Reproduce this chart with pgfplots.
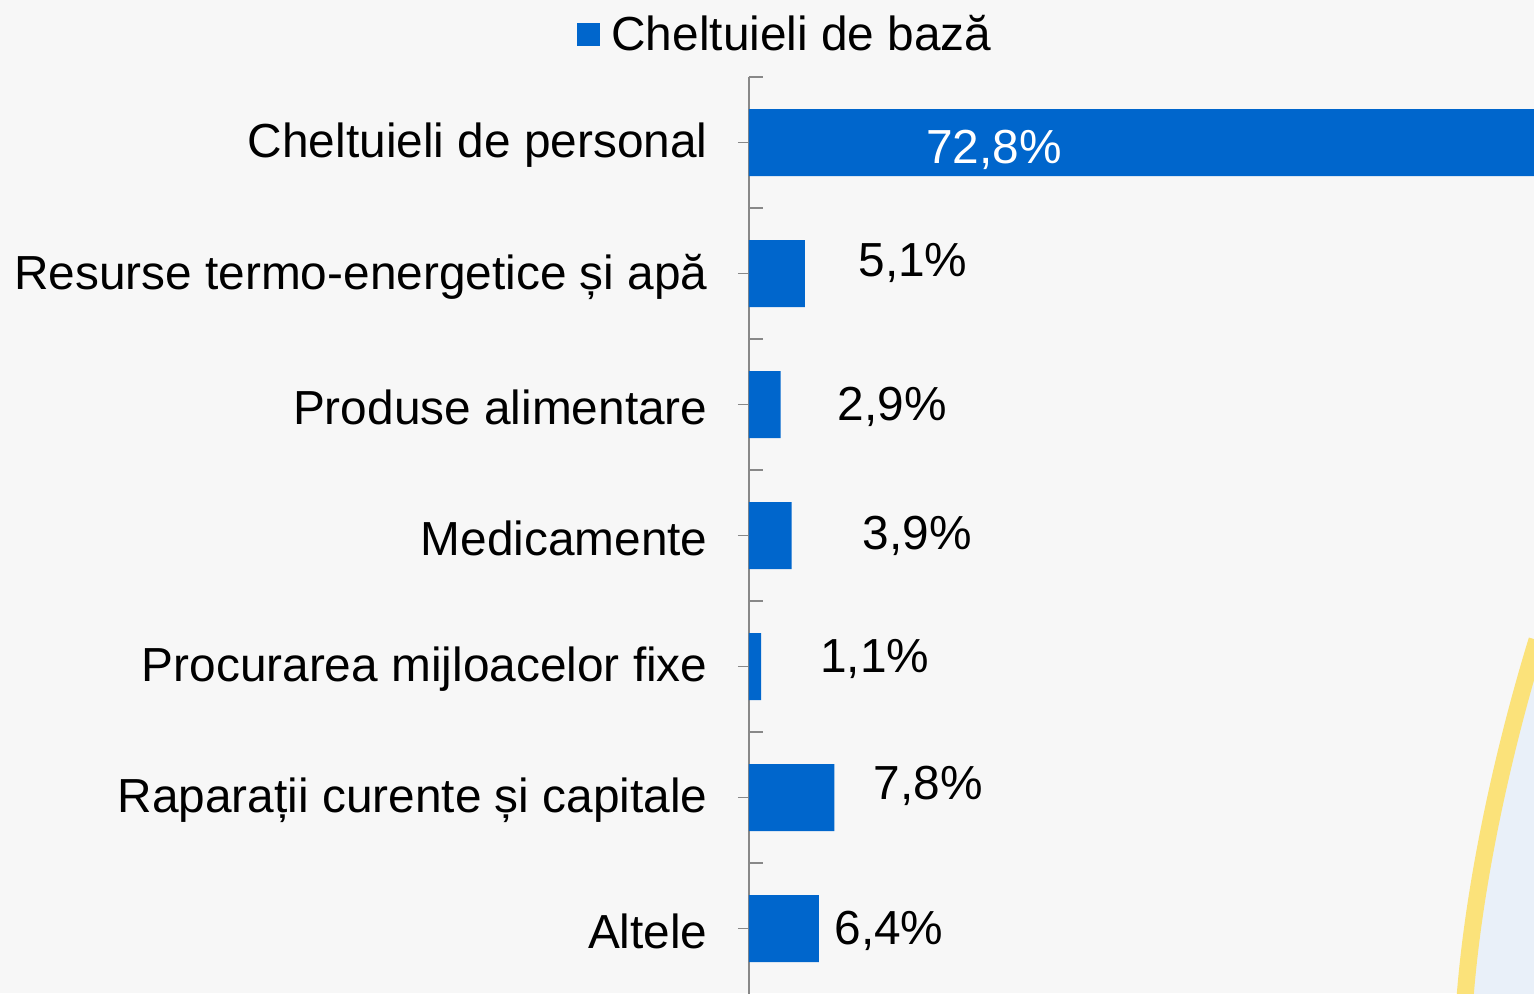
\documentclass[border=0pt]{standalone}
\usepackage{pgfplots}
\pgfplotsset{compat=1.18}
\usepackage{fontspec}
\setmainfont{Liberation Sans}
\definecolor{barblue}{HTML}{0066CC}
\definecolor{bgc}{HTML}{F7F7F7}
\definecolor{axgray}{HTML}{888888}
\definecolor{deco}{HTML}{FBE27A}
\definecolor{decoblue}{HTML}{E9F0F9}
\begin{document}
\begin{tikzpicture}[x=1pt,y=1pt,font=\fontsize{23.9}{28}\selectfont]
\path[use as bounding box] (-374.5,0.5) rectangle (392.5,497);
\clip (-374.5,0.5) rectangle (392.5,497);
\fill[bgc] (-374.5,0.5) rectangle (392.5,497);
% decorative swoosh (background)
\fill[decoblue] (394,177) .. controls (375,115) and (362,50) .. (358,-2) -- (400,-2) -- cycle;
\draw[deco, line width=8.5pt] (394,177) .. controls (375,115) and (362,50) .. (358,-2);
\begin{axis}[
  at={(0,0)}, anchor=south west,
  scale only axis,
  width=392.5pt, height=458.5pt,
  xmin=0, xmax=71.8,
  ymin=-0.5, ymax=6.5,
  y dir=reverse,
  axis x line=none,
  axis y line*=left,
  axis line style={axgray, line width=0.8pt},
  ytick={0,1,2,3,4,5,6},
  yticklabels={Cheltuieli de personal, Resurse termo-energetice și apă, Produse alimentare, Medicamente, Procurarea mijloacelor fixe, Raparații curente și capitale, Altele},
  tick align=outside,
  major tick length=5.5pt,
  tick style={axgray, line width=0.8pt},
  extra y ticks={-0.5,0.5,1.5,2.5,3.5,4.5,5.5},
  extra y tick labels={},
  extra y tick style={tick align=inside, major tick length=7pt, tick style={axgray, line width=0.8pt}},
  yticklabel style={anchor=east, inner sep=0pt, xshift=-15pt, yshift=-1.5pt},
  xbar, bar width=33.5pt,
  legend style={at={(axis description cs:-0.219,1.046)}, anchor=west, draw=none, fill=none, inner sep=0pt, cells={anchor=west},
    /tikz/every odd column/.append style={column sep=3.5pt}},
]
\addplot[xbar, fill=barblue, draw=none,
  legend image code/.code={\fill[barblue] (0pt,-5.75pt) rectangle (11.5pt,5.75pt);}]
  coordinates {(72.8,0) (5.1,1) (2.9,2) (3.9,3) (1.1,4) (7.8,5) (6.4,6)};
\addlegendentry{Cheltuieli de bază}
\node[text=white] at (axis cs:22.4,0.053) {72,8\%};
\node at (axis cs:15.0,0.916) {5,1\%};
\node at (axis cs:13.1,2.015) {2,9\%};
\node at (axis cs:15.4,3.0) {3,9\%};
\node at (axis cs:11.5,3.939) {1,1\%};
\node at (axis cs:16.4,4.908) {7,8\%};
\node at (axis cs:12.8,6.015) {6,4\%};
\end{axis}
\end{tikzpicture}
\end{document}
